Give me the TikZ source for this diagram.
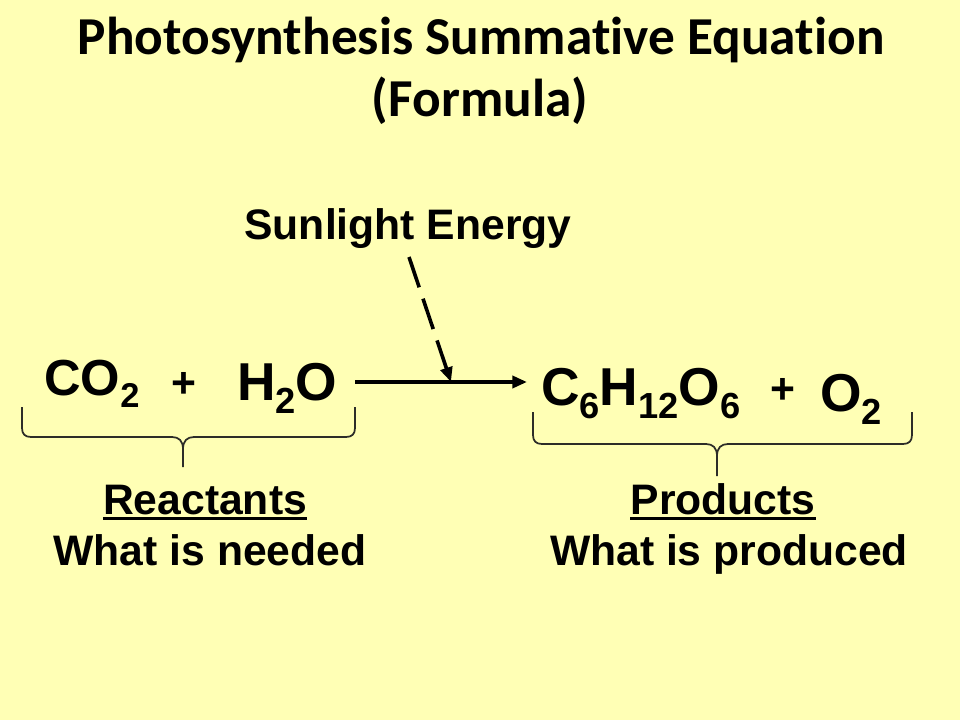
\documentclass[tikz,border=0pt]{standalone}
\usepackage{fontspec}
\setmainfont{Liberation Sans}
\newfontfamily\titlefont{Carlito}[Ligatures={NoCommon}]
\usetikzlibrary{arrows.meta}
\definecolor{slidebg}{RGB}{255,255,181}
\definecolor{bracecol}{RGB}{45,45,40}
\newcommand\chsub[1]{\raisebox{-0.25em}{\scalebox{0.68}{#1}}}
\begin{document}
\begin{tikzpicture}[x=0.75pt,y=-0.75pt,
  titletxt/.style={inner sep=0pt, font=\titlefont\bfseries\fontsize{40}{48}\selectfont},
  lbl/.style={inner sep=0pt, font=\bfseries\fontsize{32}{38}\selectfont},
  chemsmall/.style={inner sep=0pt, anchor=base west, font=\bfseries\fontsize{38}{44}\selectfont},
  chembig/.style={inner sep=0pt, anchor=base west, font=\bfseries\fontsize{40}{46}\selectfont},
  plussign/.style={inner sep=0pt, font=\bfseries\fontsize{32}{36}\selectfont},
  arrowline/.style={line width=2.7pt, -{Triangle[length=11pt,width=9pt]}},
  bracepath/.style={line width=1.3pt, draw=bracecol, line join=round}]
\fill[slidebg] (0,0) rectangle (960,720);
\useasboundingbox (0,0) rectangle (960,720);

% title
\node[titletxt, anchor=base] (title1) at (481,55) {Photosynthesis Summative Equation};
\node[titletxt, anchor=base] (title2) at (480,117) {(Formula)};

% sunlight
\node[lbl, anchor=base] (sun) at (408,240) {Sunlight Energy};

% equation
\node[chemsmall] (co2) at (44,395) {CO\chsub{2}};
\node[plussign] (plus1) at (184,385) {+};
\node[chembig] (h2o) at (237,400) {H\chsub{2}O};
\node[chembig] (glucose) at (541,405) {C\chsub{6}H\chsub{12}O\chsub{6}};
\node[plussign] (plus2) at (783,391) {+};
\node[chembig] (o2) at (820,411) {O\chsub{2}};

% arrows
\coordinate (aStart) at (355,382);
\coordinate (aEnd) at (527,382);
\draw[arrowline] (aStart) -- (aEnd);
\coordinate (dStart) at (409,257);
\coordinate (dEnd) at (451,382);
\draw[arrowline, dash pattern=on 24pt off 9pt] (dStart) -- (dEnd);

% left brace
\draw[bracepath] (22,407) -- (22,428) .. controls (22,434) and (25,437) .. (31,437)
  -- (172,437) .. controls (179,437) and (183,441) .. (183,449) -- (183,467);
\draw[bracepath] (355,407) -- (355,428) .. controls (355,434) and (352,437) .. (346,437)
  -- (194,437) .. controls (187,437) and (183,441) .. (183,449);
% right brace
\draw[bracepath] (533,412) -- (533,435) .. controls (533,441) and (536,444) .. (542,444)
  -- (706,444) .. controls (713,444) and (717,448) .. (717,456) -- (717,476);
\draw[bracepath] (912,412) -- (912,435) .. controls (912,441) and (909,444) .. (903,444)
  -- (728,444) .. controls (721,444) and (717,448) .. (717,456);

% labels
\node[lbl, anchor=base] (react) at (205,514) {Reactants};
\draw[line width=2pt] ([yshift=-3.5pt]react.base west) -- ([yshift=-3.5pt]react.base east);
\node[lbl, anchor=base] (need) at (210,565) {What is needed};
\node[lbl, anchor=base] (prod) at (723,514) {Products};
\draw[line width=2pt] ([yshift=-3.5pt]prod.base west) -- ([yshift=-3.5pt]prod.base east);
\node[lbl, anchor=base] (produced) at (729,565) {What is produced};
\end{tikzpicture}
\end{document}
